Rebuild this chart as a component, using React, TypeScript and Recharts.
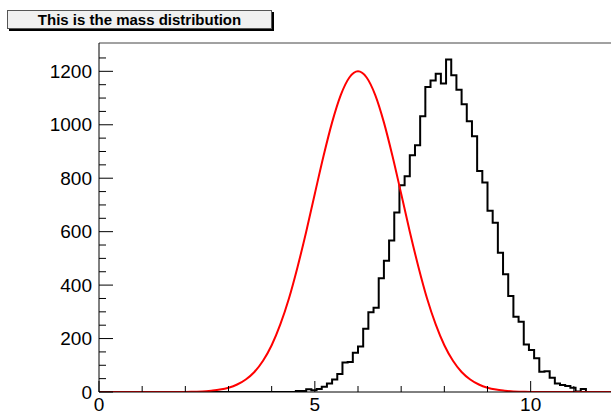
import { LineChart, Line, XAxis, YAxis, ReferenceLine } from 'recharts';

// histogram: 0.12 wide bins, first non-empty bin starts at 4.56
const BIN_START = 4.56;
const BIN_WIDTH = 0.12;
const COUNTS = [
  4, 4, 10, 7, 11, 20, 32, 47, 67, 110, 112, 147, 170, 237, 298, 315, 426, 491, 567, 672,
  774, 807, 886, 923, 1032, 1141, 1166, 1191, 1154, 1244, 1185, 1131, 1077, 1013, 957, 827,
  784, 678, 633, 521, 441, 359, 282, 263, 178, 157, 126, 76, 78, 53, 32, 26, 22, 16, 2, 11,
];

// red fit curve
const CURVE_X = [
  0, 2.0, 2.2, 2.4, 2.6, 2.8, 3.0, 3.2, 3.4, 3.6, 3.8, 4.0, 4.2, 4.4, 4.6, 4.8, 5.0, 5.2, 5.4,
  5.6, 5.8, 6.0, 6.2, 6.4, 6.6, 6.8, 7.0, 7.2, 7.4, 7.6, 7.8, 8.0, 8.2, 8.4, 8.6, 8.8, 9.0,
  9.2, 9.4, 9.6, 9.8, 10.0, 12,
];
const CURVE_Y = [
  0, 0, 1, 2, 5, 9, 16, 28, 47, 75, 117, 175, 253, 350, 468, 600, 742, 882, 1009,
  1111, 1177, 1200, 1177, 1111, 1009, 882, 742, 600, 468, 350, 253, 175, 117, 75, 47, 28, 16,
  9, 5, 2, 1, 0, 0,
];

const X_TICKS = [0, 1, 2, 3, 4, 5, 6, 7, 8, 9, 10, 11, 12];
const X_LABELS = [0, 5, 10];
const Y_TICKS = [0, 50, 100, 150, 200, 250, 300, 350, 400, 450, 500, 550, 600, 650, 700, 750, 800, 850, 900, 950, 1000, 1050, 1100, 1150, 1200, 1250];
const Y_LABELS = [0, 200, 400, 600, 800, 1000, 1200];
const Y_MAX = 1306;
const X_MAX = 12;

const FONT = '"Liberation Sans", Arial, Helvetica, sans-serif';

const histData = [
  { x: 0, y: 0 },
  ...COUNTS.map((c, i) => ({ x: +(BIN_START + i * BIN_WIDTH).toFixed(2), y: c })),
  { x: +(BIN_START + COUNTS.length * BIN_WIDTH).toFixed(2), y: 0 },
  { x: X_MAX, y: 0 },
];

const curveData = CURVE_X.map((x, i) => ({ x, y: CURVE_Y[i] }));

// ROOT style ticks: drawn inside the frame
function XTick(props: any) {
  const { x, y, payload } = props;
  const major = X_LABELS.includes(payload.value);
  return (
    <g>
      <line x1={x} x2={x} y1={y} y2={y - (major ? 11 : 6)} stroke="#000" strokeWidth={1} />
      {major && (
        <text x={x} y={y + 19} textAnchor="middle" fontSize={19} fontFamily={FONT} fill="#000">
          {payload.value}
        </text>
      )}
    </g>
  );
}

function YTick(props: any) {
  const { x, y, payload } = props;
  const major = Y_LABELS.includes(payload.value);
  return (
    <g>
      <line x1={x} x2={x + (major ? 14 : 7)} y1={y} y2={y} stroke="#000" strokeWidth={1} />
      {major && (
        <text x={x - 7} y={y} dy="0.35em" textAnchor="end" fontSize={19} fontFamily={FONT} fill="#000">
          {payload.value}
        </text>
      )}
    </g>
  );
}

export default function App() {
  return (
    <div style={{ position: 'fixed', left: 0, top: 0, width: 611, height: 412, overflow: 'hidden', background: '#fff' }}>
      <LineChart width={630} height={420} margin={{ top: 43, right: 13, left: 0, bottom: 0 }}>
        <XAxis
          dataKey="x"
          type="number"
          domain={[0, X_MAX]}
          ticks={X_TICKS}
          interval={0}
          height={28}
          tickSize={0}
          tickMargin={0}
          tick={<XTick />}
          axisLine={{ stroke: '#000' }}
          allowDataOverflow
        />
        <YAxis
          type="number"
          domain={[0, Y_MAX]}
          ticks={Y_TICKS}
          interval={0}
          width={99}
          tickSize={0}
          tickMargin={0}
          tick={<YTick />}
          axisLine={{ stroke: '#000' }}
          allowDataOverflow
        />
        <ReferenceLine y={Y_MAX} stroke="#444" strokeWidth={1} />
        <Line
          data={histData}
          dataKey="y"
          type="stepAfter"
          stroke="#000"
          strokeWidth={2}
          dot={false}
          isAnimationActive={false}
        />
        <Line
          data={curveData}
          dataKey="y"
          type="monotone"
          stroke="#ff0000"
          strokeWidth={2}
          dot={false}
          isAnimationActive={false}
        />
      </LineChart>
      <div
        style={{
          position: 'absolute',
          left: 7,
          top: 10,
          width: 263,
          height: 17,
          border: '1px solid #555',
          boxShadow: '2px 2px 0 #000',
          background: '#f0f0f0',
          fontFamily: FONT,
          fontWeight: 'bold',
          fontSize: 15,
          lineHeight: '17px',
          textAlign: 'center',
          color: '#000',
        }}
      >
        This is the mass distribution
      </div>
    </div>
  );
}
